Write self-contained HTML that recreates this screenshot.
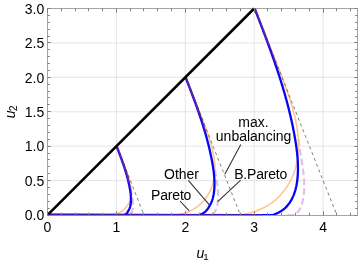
<!DOCTYPE html>
<html><head><meta charset="utf-8"><title>plot</title>
<style>
html,body{margin:0;padding:0;background:#fff;}
body{width:360px;height:264px;overflow:hidden;position:relative;font-family:"Liberation Sans",sans-serif;}
</style></head><body>
<svg width="360" height="264" viewBox="0 0 360 264" style="position:absolute;left:0;top:0;will-change:transform">
<rect width="360" height="264" fill="#fff"/>
<g stroke="#e2e2e2" stroke-width="0.9" fill="none"><line x1="116.39" y1="8.50" x2="116.39" y2="215.50"/><line x1="185.28" y1="8.50" x2="185.28" y2="215.50"/><line x1="254.17" y1="8.50" x2="254.17" y2="215.50"/><line x1="323.06" y1="8.50" x2="323.06" y2="215.50"/><line x1="47.50" y1="180.59" x2="357.50" y2="180.59"/><line x1="47.50" y1="146.17" x2="357.50" y2="146.17"/><line x1="47.50" y1="111.75" x2="357.50" y2="111.75"/><line x1="47.50" y1="77.34" x2="357.50" y2="77.34"/><line x1="47.50" y1="42.93" x2="357.50" y2="42.93"/></g>
<clipPath id="c"><rect x="47.50" y="6.50" width="310.00" height="208.55"/></clipPath>
<g clip-path="url(#c)" fill="none" stroke-linejoin="round" stroke-linecap="butt">
<path d="M130.80 188.27 L130.88 188.80 L130.96 189.33 L131.04 189.86 L131.11 190.40 L131.19 190.93 L131.27 191.46 L131.34 192.00 L131.42 192.53 L131.50 193.06 L131.58 193.60 L131.67 194.13 L131.75 194.66 L131.84 195.20 L131.93 195.73 L132.02 196.26 L132.11 196.80 L132.19 197.33 L132.28 197.86 L132.36 198.40 L132.44 198.93 L132.52 199.47 L132.59 200.00 L132.66 200.53 L132.72 201.07 L132.78 201.60 L132.83 202.13 L132.88 202.67 L132.91 203.20 L132.94 203.74 L132.97 204.27 L132.98 204.81 L132.98 205.34 L132.98 205.87 L132.96 206.41 L132.93 206.94 L132.89 207.48 L132.84 208.01 L132.78 208.55 L132.70 209.08 L132.61 209.62 L132.50 210.15 L132.38 210.69 L132.24 211.22 L132.08 211.74 L131.89 212.24 L131.68 212.73 L131.43 213.18 L131.15 213.60 L130.83 213.98 L130.46 214.32 L130.05 214.60 L129.59 214.82 L129.07 214.98 L128.50 215.07 L127.88 215.08 L127.20 215.01" stroke="#dfbfe2" stroke-width="2.1" stroke-dasharray="6.6 3.3" stroke-dashoffset="9.83"/>
<path d="M213.81 161.54 L213.96 162.60 L214.12 163.66 L214.27 164.73 L214.42 165.79 L214.58 166.86 L214.73 167.92 L214.89 168.99 L215.04 170.06 L215.20 171.12 L215.37 172.19 L215.54 173.26 L215.71 174.33 L215.88 175.39 L216.06 176.46 L216.24 177.53 L216.41 178.59 L216.58 179.66 L216.75 180.73 L216.92 181.80 L217.08 182.86 L217.23 183.93 L217.38 185.00 L217.51 186.07 L217.64 187.13 L217.76 188.20 L217.86 189.27 L217.95 190.34 L218.03 191.41 L218.09 192.47 L218.13 193.54 L218.16 194.61 L218.17 195.68 L218.15 196.75 L218.12 197.82 L218.06 198.89 L217.98 199.96 L217.88 201.03 L217.75 202.09 L217.60 203.16 L217.41 204.23 L217.20 205.30 L216.96 206.37 L216.68 207.44 L216.36 208.48 L215.99 209.49 L215.56 210.45 L215.06 211.36 L214.50 212.20 L213.86 212.96 L213.13 213.63 L212.30 214.20 L211.38 214.64 L210.35 214.96 L209.21 215.14 L207.96 215.16 L206.59 215.01" stroke="#dfbfe2" stroke-width="2.1" stroke-dasharray="6.6 3.3" stroke-dashoffset="1.51"/>
<path d="M297.71 134.81 L297.95 136.40 L298.18 138.00 L298.41 139.59 L298.64 141.19 L298.87 142.79 L299.10 144.39 L299.33 145.99 L299.57 147.59 L299.81 149.19 L300.05 150.79 L300.31 152.39 L300.56 153.99 L300.83 155.59 L301.09 157.19 L301.35 158.79 L301.62 160.39 L301.87 161.99 L302.13 163.59 L302.38 165.19 L302.62 166.80 L302.85 168.40 L303.07 170.00 L303.27 171.60 L303.46 173.20 L303.64 174.80 L303.79 176.40 L303.93 178.01 L304.04 179.61 L304.13 181.21 L304.20 182.81 L304.24 184.42 L304.25 186.02 L304.23 187.62 L304.18 189.23 L304.10 190.83 L303.98 192.43 L303.82 194.04 L303.63 195.64 L303.39 197.25 L303.12 198.85 L302.80 200.46 L302.43 202.06 L302.02 203.65 L301.54 205.22 L300.98 206.73 L300.34 208.18 L299.60 209.54 L298.75 210.80 L297.78 211.95 L296.69 212.95 L295.45 213.80 L294.06 214.47 L292.52 214.94 L290.81 215.21 L288.94 215.24 L286.89 215.02" stroke="#dfbfe2" stroke-width="2.1" stroke-dasharray="6.6 3.3" stroke-dashoffset="5.48"/>
<path d="M116.55 146.19 L116.82 146.89 L117.10 147.59 L117.37 148.29 L117.65 148.98 L117.93 149.68 L118.21 150.37 L118.49 151.06 L118.77 151.75 L119.05 152.44 L119.33 153.13 L119.61 153.82 L119.89 154.51 L120.17 155.20 L120.46 155.88 L120.74 156.57 L121.02 157.26 L121.30 157.94 L121.58 158.63 L121.86 159.31 L122.14 160.00 L122.42 160.69 L122.69 161.37 L122.97 162.06 L123.24 162.75 L123.52 163.43 L123.79 164.12 L124.06 164.81 L124.33 165.50 L124.60 166.19 L124.87 166.88 L125.13 167.58 L125.40 168.27 L125.66 168.96 L125.92 169.66 L126.18 170.36 L126.43 171.06 L126.68 171.76 L126.93 172.46 L127.18 173.17 L127.43 173.87 L127.67 174.58 L127.91 175.29 L128.14 176.01 L128.37 176.72 L128.60 177.44 L128.82 178.16 L129.03 178.88 L129.24 179.60 L129.44 180.32 L129.63 181.05 L129.82 181.78 L129.99 182.50 L130.15 183.23 L130.31 183.97 L130.45 184.70 L130.58 185.43 L130.70 186.17 L130.81 186.91 L130.90 187.65 L130.98 188.38 L131.05 189.13 L131.10 189.87 L131.13 190.61 L131.15 191.36 L131.15 192.10 L131.13 192.85 L131.10 193.59 L131.05 194.34 L130.98 195.08 L130.89 195.82 L130.77 196.56 L130.64 197.29 L130.49 198.02 L130.32 198.74 L130.13 199.46 L129.91 200.17 L129.67 200.87 L129.41 201.56 L129.13 202.25 L128.82 202.92 L128.49 203.58 L128.14 204.23 L127.77 204.87 L127.37 205.49 L126.96 206.10 L126.52 206.70 L126.07 207.28 L125.59 207.84 L125.10 208.39 L124.58 208.92 L124.05 209.43 L123.50 209.93 L122.93 210.40 L122.35 210.85 L121.74 211.28 L121.12 211.69 L120.49 212.08 L119.83 212.44 L119.17 212.78 L118.49 213.10 L117.80 213.39 L117.10 213.66 L116.38 213.91 L115.66 214.13 L114.92 214.33 L114.18 214.50 L113.43 214.64 L112.67 214.76 L111.90 214.85" stroke="#ffc58f" stroke-width="1.6"/>
<path d="M185.59 77.38 L186.14 78.78 L186.69 80.18 L187.25 81.57 L187.80 82.96 L188.36 84.35 L188.92 85.74 L189.48 87.13 L190.04 88.51 L190.60 89.89 L191.16 91.27 L191.72 92.64 L192.29 94.02 L192.85 95.39 L193.41 96.77 L193.97 98.14 L194.54 99.51 L195.10 100.89 L195.66 102.26 L196.22 103.63 L196.77 105.00 L197.33 106.37 L197.88 107.74 L198.44 109.12 L198.99 110.49 L199.54 111.87 L200.08 113.24 L200.63 114.62 L201.17 116.00 L201.70 117.38 L202.24 118.77 L202.77 120.15 L203.29 121.54 L203.82 122.93 L204.34 124.32 L204.85 125.72 L205.36 127.12 L205.87 128.52 L206.37 129.93 L206.86 131.34 L207.35 132.75 L207.84 134.17 L208.32 135.59 L208.79 137.01 L209.25 138.44 L209.70 139.88 L210.14 141.31 L210.57 142.75 L210.98 144.20 L211.38 145.65 L211.76 147.10 L212.13 148.55 L212.48 150.01 L212.81 151.47 L213.12 152.93 L213.40 154.40 L213.66 155.87 L213.90 157.34 L214.12 158.81 L214.30 160.29 L214.46 161.77 L214.59 163.25 L214.69 164.74 L214.76 166.22 L214.80 167.71 L214.80 169.20 L214.77 170.69 L214.70 172.19 L214.59 173.68 L214.45 175.16 L214.27 176.64 L214.05 178.12 L213.79 179.58 L213.49 181.04 L213.14 182.49 L212.76 183.92 L212.32 185.34 L211.85 186.74 L211.32 188.13 L210.75 189.49 L210.14 190.84 L209.48 192.16 L208.78 193.46 L208.03 194.74 L207.24 195.99 L206.42 197.21 L205.54 198.40 L204.63 199.56 L203.68 200.69 L202.69 201.78 L201.67 202.84 L200.60 203.87 L199.50 204.85 L198.36 205.80 L197.19 206.70 L195.98 207.56 L194.74 208.38 L193.47 209.15 L192.17 209.88 L190.84 210.56 L189.48 211.20 L188.10 211.79 L186.69 212.33 L185.26 212.82 L183.81 213.26 L182.34 213.65 L180.86 214.00 L179.35 214.28 L177.84 214.52 L176.31 214.70" stroke="#ffc58f" stroke-width="1.6"/>
<path d="M254.64 8.57 L255.46 10.67 L256.29 12.77 L257.12 14.86 L257.95 16.95 L258.79 19.03 L259.63 21.11 L260.46 23.19 L261.31 25.26 L262.15 27.33 L262.99 29.40 L263.83 31.47 L264.68 33.53 L265.52 35.59 L266.37 37.65 L267.21 39.71 L268.05 41.77 L268.89 43.83 L269.73 45.89 L270.57 47.94 L271.41 50.00 L272.25 52.06 L273.08 54.12 L273.91 56.18 L274.73 58.24 L275.56 60.30 L276.37 62.37 L277.19 64.43 L278.00 66.50 L278.81 68.57 L279.61 70.65 L280.40 72.73 L281.19 74.81 L281.98 76.89 L282.75 78.98 L283.53 81.08 L284.29 83.18 L285.05 85.28 L285.80 87.39 L286.54 89.50 L287.28 91.62 L288.01 93.75 L288.72 95.88 L289.43 98.02 L290.12 100.17 L290.80 102.32 L291.46 104.47 L292.10 106.63 L292.72 108.80 L293.32 110.97 L293.90 113.15 L294.45 115.33 L294.97 117.51 L295.46 119.70 L295.92 121.90 L296.35 124.10 L296.75 126.30 L297.10 128.51 L297.42 130.72 L297.70 132.94 L297.94 135.15 L298.14 137.38 L298.29 139.60 L298.39 141.83 L298.44 144.07 L298.45 146.30 L298.40 148.54 L298.30 150.78 L298.14 153.01 L297.93 155.24 L297.66 157.46 L297.32 159.68 L296.93 161.88 L296.48 164.06 L295.96 166.23 L295.38 168.38 L294.73 170.51 L294.02 172.61 L293.23 174.69 L292.38 176.74 L291.46 178.76 L290.47 180.74 L289.42 182.69 L288.30 184.61 L287.12 186.48 L285.87 188.31 L284.57 190.10 L283.20 191.84 L281.78 193.53 L280.29 195.18 L278.75 196.77 L277.15 198.30 L275.50 199.78 L273.80 201.20 L272.04 202.55 L270.23 203.84 L268.36 205.07 L266.46 206.23 L264.50 207.32 L262.51 208.35 L260.47 209.30 L258.40 210.18 L256.29 210.99 L254.14 211.73 L251.97 212.39 L249.76 212.98 L247.53 213.49 L245.28 213.93 L243.01 214.28 L240.71 214.56" stroke="#ffc58f" stroke-width="1.6"/>
<path d="M116.55 146.19 L116.72 146.63 L116.89 147.07 L117.06 147.51 L117.23 147.94 L117.40 148.38 L117.57 148.82 L117.74 149.26 L117.91 149.70 L118.08 150.14 L118.25 150.58 L118.42 151.02 L118.59 151.46 L118.75 151.90 L118.92 152.34 L119.09 152.78 L119.26 153.22 L119.43 153.67 L119.59 154.11 L119.76 154.55 L119.92 154.99 L120.09 155.43 L120.25 155.87 L120.42 156.31 L120.58 156.75 L120.75 157.20 L120.91 157.64 L121.07 158.08 L121.24 158.52 L121.40 158.96 L121.56 159.41 L121.72 159.85 L121.88 160.29 L122.04 160.74 L122.20 161.18 L122.35 161.62 L122.51 162.07 L122.67 162.51 L122.82 162.95 L122.98 163.40 L123.13 163.84 L123.29 164.29 L123.44 164.73 L123.59 165.18 L123.74 165.62 L123.89 166.07 L124.04 166.52 L124.19 166.96 L124.34 167.41 L124.48 167.86 L124.63 168.30 L124.77 168.75 L124.92 169.20 L125.06 169.65 L125.20 170.09 L125.34 170.54 L125.48 170.99 L125.62 171.44 L125.76 171.89 L125.89 172.34 L126.03 172.79 L126.16 173.24 L126.29 173.69 L126.43 174.14 L126.56 174.59 L126.68 175.04 L126.81 175.50 L126.94 175.95 L127.06 176.40 L127.19 176.85 L127.31 177.31 L127.43 177.76 L127.55 178.22 L127.67 178.67 L127.79 179.13 L127.90 179.58 L128.01 180.04 L128.13 180.49 L128.24 180.95 L128.35 181.41 L128.46 181.86 L128.56 182.32 L128.67 182.78 L128.77 183.24 L128.87 183.70 L128.97 184.16 L129.07 184.62 L129.17 185.08 L129.26 185.54 L129.36 186.00 L129.45 186.46 L129.54 186.92 L129.63 187.38 L129.71 187.85 L129.80 188.31 L129.88 188.77 L129.96 189.24 L130.04 189.70 L130.12 190.17 L130.19 190.63 L130.27 191.10 L130.34 191.57 L130.41 192.04 L130.47 192.50 L130.53 192.97 L130.59 193.44 L130.65 193.91 L130.70 194.38 L130.75 194.85 L130.80 195.32 L130.84 195.79 L130.87 196.26 L130.91 196.73 L130.93 197.20 L130.96 197.67 L130.97 198.15 L130.98 198.62 L130.99 199.09 L130.99 199.56 L130.99 200.04 L130.97 200.51 L130.96 200.99 L130.93 201.46 L130.90 201.93 L130.86 202.41 L130.82 202.88 L130.77 203.36 L130.70 203.83 L130.63 204.30 L130.55 204.76 L130.47 205.23 L130.37 205.69 L130.26 206.15 L130.14 206.60 L130.01 207.05 L129.87 207.49 L129.72 207.93 L129.55 208.36 L129.38 208.78 L129.19 209.20 L128.98 209.61 L128.77 210.01 L128.54 210.41 L128.34 210.79 L128.15 211.16 L127.96 211.52 L127.77 211.87 L127.57 212.21 L127.36 212.54 L127.13 212.85 L126.89 213.15 L126.64 213.43 L126.36 213.70 L126.07 213.95 L125.75 214.18 L125.41 214.39 L125.05 214.59 L124.66 214.77 L124.24 214.93 L123.79 215.06 L47.50 215.00" stroke="#0505ff" stroke-width="2.3"/>
<path d="M185.61 77.37 L185.95 78.25 L186.29 79.13 L186.63 80.01 L186.97 80.89 L187.31 81.77 L187.64 82.65 L187.98 83.53 L188.32 84.41 L188.66 85.29 L189.00 86.17 L189.34 87.05 L189.67 87.93 L190.01 88.81 L190.35 89.69 L190.68 90.57 L191.02 91.45 L191.35 92.33 L191.68 93.21 L192.02 94.09 L192.35 94.98 L192.68 95.86 L193.01 96.74 L193.34 97.62 L193.67 98.51 L194.00 99.39 L194.32 100.27 L194.65 101.16 L194.97 102.04 L195.29 102.93 L195.62 103.81 L195.94 104.70 L196.26 105.58 L196.58 106.47 L196.89 107.36 L197.21 108.24 L197.52 109.13 L197.84 110.02 L198.15 110.91 L198.46 111.80 L198.77 112.69 L199.07 113.58 L199.38 114.47 L199.68 115.36 L199.98 116.25 L200.28 117.14 L200.58 118.03 L200.88 118.92 L201.17 119.82 L201.47 120.71 L201.76 121.61 L202.05 122.50 L202.33 123.40 L202.62 124.29 L202.90 125.19 L203.18 126.09 L203.46 126.98 L203.74 127.88 L204.01 128.78 L204.28 129.68 L204.55 130.58 L204.82 131.48 L205.09 132.38 L205.35 133.28 L205.61 134.19 L205.87 135.09 L206.12 135.99 L206.38 136.90 L206.63 137.80 L206.87 138.71 L207.12 139.62 L207.36 140.52 L207.60 141.43 L207.84 142.34 L208.07 143.25 L208.30 144.16 L208.53 145.07 L208.75 145.99 L208.98 146.90 L209.20 147.81 L209.41 148.73 L209.62 149.64 L209.83 150.56 L210.04 151.48 L210.24 152.39 L210.45 153.31 L210.64 154.23 L210.84 155.15 L211.03 156.07 L211.21 157.00 L211.40 157.92 L211.58 158.84 L211.75 159.77 L211.93 160.69 L212.10 161.62 L212.26 162.55 L212.42 163.48 L212.58 164.41 L212.74 165.34 L212.89 166.27 L213.03 167.20 L213.18 168.14 L213.31 169.07 L213.44 170.01 L213.57 170.94 L213.69 171.88 L213.80 172.82 L213.91 173.76 L214.00 174.70 L214.09 175.64 L214.17 176.58 L214.25 177.52 L214.31 178.46 L214.37 179.40 L214.41 180.35 L214.44 181.29 L214.47 182.24 L214.48 183.18 L214.48 184.13 L214.47 185.08 L214.45 186.02 L214.41 186.97 L214.36 187.92 L214.30 188.87 L214.23 189.82 L214.14 190.77 L214.03 191.71 L213.91 192.65 L213.77 193.59 L213.61 194.53 L213.43 195.46 L213.24 196.38 L213.02 197.29 L212.78 198.20 L212.52 199.10 L212.24 199.98 L211.94 200.86 L211.61 201.72 L211.25 202.57 L210.87 203.40 L210.47 204.22 L210.03 205.03 L209.57 205.81 L209.13 206.58 L208.69 207.32 L208.24 208.05 L207.77 208.75 L207.28 209.43 L206.76 210.08 L206.21 210.70 L205.63 211.29 L205.02 211.86 L204.37 212.39 L203.68 212.89 L202.96 213.36 L202.19 213.79 L201.38 214.18 L200.52 214.54 L199.61 214.85 L198.65 215.13 L47.50 215.00" stroke="#0505ff" stroke-width="2.3"/>
<path d="M254.66 8.56 L255.17 9.88 L255.68 11.20 L256.19 12.52 L256.70 13.83 L257.21 15.15 L257.72 16.47 L258.23 17.79 L258.73 19.11 L259.24 20.43 L259.75 21.75 L260.25 23.07 L260.76 24.39 L261.26 25.71 L261.77 27.03 L262.27 28.35 L262.77 29.67 L263.28 31.00 L263.78 32.32 L264.27 33.64 L264.77 34.96 L265.27 36.29 L265.76 37.61 L266.26 38.94 L266.75 40.26 L267.24 41.59 L267.73 42.91 L268.22 44.24 L268.71 45.56 L269.19 46.89 L269.68 48.22 L270.16 49.55 L270.64 50.88 L271.11 52.21 L271.59 53.54 L272.06 54.87 L272.53 56.20 L273.00 57.53 L273.47 58.86 L273.94 60.20 L274.40 61.53 L274.86 62.86 L275.32 64.20 L275.77 65.54 L276.23 66.87 L276.68 68.21 L277.12 69.55 L277.57 70.89 L278.01 72.23 L278.45 73.57 L278.89 74.91 L279.32 76.25 L279.75 77.59 L280.18 78.94 L280.60 80.28 L281.02 81.63 L281.44 82.97 L281.86 84.32 L282.27 85.67 L282.68 87.02 L283.08 88.37 L283.48 89.72 L283.88 91.07 L284.28 92.42 L284.67 93.78 L285.05 95.13 L285.44 96.49 L285.81 97.85 L286.19 99.21 L286.56 100.56 L286.93 101.92 L287.29 103.29 L287.65 104.65 L288.01 106.01 L288.36 107.38 L288.70 108.74 L289.04 110.11 L289.38 111.48 L289.72 112.85 L290.04 114.22 L290.37 115.59 L290.69 116.96 L291.00 118.34 L291.31 119.71 L291.62 121.09 L291.92 122.47 L292.21 123.85 L292.50 125.23 L292.79 126.61 L293.07 127.99 L293.34 129.38 L293.61 130.76 L293.88 132.15 L294.14 133.54 L294.39 134.93 L294.64 136.32 L294.89 137.72 L295.12 139.11 L295.35 140.51 L295.58 141.90 L295.80 143.30 L296.01 144.70 L296.22 146.11 L296.42 147.51 L296.60 148.91 L296.78 150.32 L296.95 151.73 L297.11 153.13 L297.25 154.54 L297.39 155.95 L297.51 157.37 L297.62 158.78 L297.72 160.19 L297.80 161.61 L297.87 163.02 L297.92 164.44 L297.95 165.86 L297.97 167.27 L297.97 168.69 L297.96 170.11 L297.92 171.54 L297.87 172.96 L297.80 174.38 L297.70 175.80 L297.59 177.23 L297.45 178.65 L297.30 180.07 L297.11 181.48 L296.90 182.89 L296.66 184.29 L296.40 185.69 L296.11 187.07 L295.78 188.44 L295.43 189.80 L295.04 191.15 L294.61 192.47 L294.16 193.79 L293.66 195.08 L293.13 196.35 L292.56 197.61 L291.95 198.84 L291.30 200.04 L290.60 201.22 L289.87 202.37 L289.09 203.49 L288.26 204.57 L287.39 205.62 L286.48 206.64 L285.51 207.61 L284.50 208.55 L283.43 209.44 L282.32 210.29 L281.16 211.09 L279.94 211.84 L278.67 212.54 L277.34 213.18 L275.96 213.77 L274.52 214.31 L273.03 214.78 L271.48 215.19 L47.50 215.00" stroke="#0505ff" stroke-width="2.3"/>
<path d="M116.55 146.19 L116.72 146.63 L116.89 147.07 L117.06 147.51 L117.23 147.94 L117.40 148.38 L117.57 148.82 L117.74 149.26 L117.91 149.70 L118.08 150.14 L118.25 150.58 L118.42 151.02 L118.59 151.46 L118.75 151.90 L118.92 152.34 L119.09 152.78 L119.26 153.22 L119.43 153.67 L119.59 154.11 L119.76 154.55 L119.92 154.99 L120.09 155.43 L120.25 155.87 L120.42 156.31 L120.58 156.75 L120.75 157.20 L120.91 157.64 L121.07 158.08 L121.24 158.52 L121.40 158.96 L121.56 159.41 L121.72 159.85 L121.88 160.29 L122.04 160.74 L122.20 161.18 L122.35 161.62 L122.51 162.07 L122.67 162.51 L122.82 162.95 L122.98 163.40 L123.13 163.84 L123.29 164.29 L123.44 164.73 L123.59 165.18 L123.74 165.62 L123.89 166.07 L124.04 166.52 L124.19 166.96 L124.34 167.41 L124.48 167.86 L124.63 168.30 L124.77 168.75 L124.92 169.20 L125.06 169.65 L125.20 170.09 L125.34 170.54 L125.48 170.99 L125.62 171.44 L125.76 171.89 L125.89 172.34 L126.03 172.79 L126.16 173.24 L126.29 173.69 L126.43 174.14 L126.56 174.59 L126.68 175.04 L126.81 175.50 L126.94 175.95 L127.06 176.40 L127.19 176.85 L127.31 177.31 L127.43 177.76 L127.55 178.22 L127.67 178.67 L127.79 179.13 L127.90 179.58 L128.01 180.04 L128.13 180.49 L128.24 180.95 L128.35 181.41 L128.46 181.86" stroke="#86309a" stroke-width="1.9" stroke-opacity="0.7" transform="translate(0.35,0)"/>
<path d="M128.35 181.41 L128.46 181.86 L128.56 182.32 L128.67 182.78 L128.77 183.24 L128.87 183.70 L128.97 184.16 L129.07 184.62 L129.17 185.08 L129.26 185.54 L129.36 186.00 L129.45 186.46 L129.54 186.92 L129.63 187.38 L129.71 187.85 L129.80 188.31 L129.88 188.77 L129.96 189.24 L130.04 189.70 L130.12 190.17 L130.19 190.63 L130.27 191.10 L130.34 191.57 L130.41 192.04 L130.47 192.50 L130.53 192.97 L130.59 193.44 L130.65 193.91 L130.70 194.38 L130.75 194.85 L130.80 195.32 L130.84 195.79 L130.87 196.26 L130.91 196.73 L130.93 197.20 L130.96 197.67 L130.97 198.15 L130.98 198.62 L130.99 199.09 L130.99 199.56 L130.99 200.04 L130.97 200.51 L130.96 200.99" stroke="#86309a" stroke-width="1.4" stroke-opacity="0.4" transform="translate(0.45,0)"/>
<path d="M185.61 77.37 L185.95 78.25 L186.29 79.13 L186.63 80.01 L186.97 80.89 L187.31 81.77 L187.64 82.65 L187.98 83.53 L188.32 84.41 L188.66 85.29 L189.00 86.17 L189.34 87.05 L189.67 87.93 L190.01 88.81 L190.35 89.69 L190.68 90.57 L191.02 91.45 L191.35 92.33 L191.68 93.21 L192.02 94.09 L192.35 94.98 L192.68 95.86 L193.01 96.74 L193.34 97.62 L193.67 98.51 L194.00 99.39 L194.32 100.27 L194.65 101.16 L194.97 102.04 L195.29 102.93 L195.62 103.81 L195.94 104.70 L196.26 105.58 L196.58 106.47 L196.89 107.36 L197.21 108.24 L197.52 109.13 L197.84 110.02 L198.15 110.91 L198.46 111.80 L198.77 112.69" stroke="#86309a" stroke-width="1.9" stroke-opacity="0.7" transform="translate(0.35,0)"/>
<path d="M198.77 112.69 L199.07 113.58 L199.38 114.47 L199.68 115.36 L199.98 116.25 L200.28 117.14 L200.58 118.03 L200.88 118.92 L201.17 119.82 L201.47 120.71 L201.76 121.61 L202.05 122.50 L202.33 123.40 L202.62 124.29 L202.90 125.19 L203.18 126.09 L203.46 126.98 L203.74 127.88 L204.01 128.78 L204.28 129.68 L204.55 130.58 L204.82 131.48" stroke="#86309a" stroke-width="1.4" stroke-opacity="0.4" transform="translate(0.45,0)"/>
<path d="M254.66 8.56 L255.17 9.88 L255.68 11.20 L256.19 12.52 L256.70 13.83 L257.21 15.15 L257.72 16.47 L258.23 17.79 L258.73 19.11 L259.24 20.43 L259.75 21.75 L260.25 23.07 L260.76 24.39 L261.26 25.71 L261.77 27.03 L262.27 28.35 L262.77 29.67 L263.28 31.00 L263.78 32.32 L264.27 33.64 L264.77 34.96 L265.27 36.29 L265.76 37.61 L266.26 38.94 L266.75 40.26 L267.24 41.59 L267.73 42.91 L268.22 44.24" stroke="#86309a" stroke-width="1.9" stroke-opacity="0.7" transform="translate(0.35,0)"/>
<path d="M268.22 44.24 L268.71 45.56 L269.19 46.89 L269.68 48.22 L270.16 49.55 L270.64 50.88 L271.11 52.21 L271.59 53.54 L272.06 54.87 L272.53 56.20 L273.00 57.53 L273.47 58.86 L273.94 60.20 L274.40 61.53 L274.86 62.86" stroke="#86309a" stroke-width="1.4" stroke-opacity="0.4" transform="translate(0.45,0)"/>
<line x1="116.89" y1="146.17" x2="143.95" y2="215.00" stroke="#383838" stroke-width="0.65" stroke-dasharray="3.0 3.19"/>
<line x1="185.78" y1="77.34" x2="240.39" y2="215.00" stroke="#383838" stroke-width="0.65" stroke-dasharray="3.0 3.19"/>
<line x1="254.67" y1="8.51" x2="336.84" y2="215.00" stroke="#383838" stroke-width="0.65" stroke-dasharray="3.0 3.19"/>
<line x1="47.50" y1="215.00" x2="254.17" y2="8.51" stroke="#000" stroke-width="2.6"/>
</g>
<rect x="47.50" y="8.50" width="310.00" height="207.00" fill="none" stroke="#666" stroke-width="0.6"/>
<line x1="47.50" y1="214.70" x2="262" y2="214.70" stroke="#7a2a80" stroke-width="1.6" stroke-opacity="0.5"/>
<g stroke="#808080" stroke-width="1"><line x1="47.50" y1="215.50" x2="47.50" y2="211.30"/><line x1="47.50" y1="8.50" x2="47.50" y2="12.70"/><line x1="61.50" y1="215.50" x2="61.50" y2="212.70"/><line x1="61.50" y1="8.50" x2="61.50" y2="11.30"/><line x1="75.50" y1="215.50" x2="75.50" y2="212.70"/><line x1="75.50" y1="8.50" x2="75.50" y2="11.30"/><line x1="88.50" y1="215.50" x2="88.50" y2="212.70"/><line x1="88.50" y1="8.50" x2="88.50" y2="11.30"/><line x1="102.50" y1="215.50" x2="102.50" y2="212.70"/><line x1="102.50" y1="8.50" x2="102.50" y2="11.30"/><line x1="116.50" y1="215.50" x2="116.50" y2="211.30"/><line x1="116.50" y1="8.50" x2="116.50" y2="12.70"/><line x1="130.50" y1="215.50" x2="130.50" y2="212.70"/><line x1="130.50" y1="8.50" x2="130.50" y2="11.30"/><line x1="143.50" y1="215.50" x2="143.50" y2="212.70"/><line x1="143.50" y1="8.50" x2="143.50" y2="11.30"/><line x1="157.50" y1="215.50" x2="157.50" y2="212.70"/><line x1="157.50" y1="8.50" x2="157.50" y2="11.30"/><line x1="171.50" y1="215.50" x2="171.50" y2="212.70"/><line x1="171.50" y1="8.50" x2="171.50" y2="11.30"/><line x1="185.50" y1="215.50" x2="185.50" y2="211.30"/><line x1="185.50" y1="8.50" x2="185.50" y2="12.70"/><line x1="199.50" y1="215.50" x2="199.50" y2="212.70"/><line x1="199.50" y1="8.50" x2="199.50" y2="11.30"/><line x1="212.50" y1="215.50" x2="212.50" y2="212.70"/><line x1="212.50" y1="8.50" x2="212.50" y2="11.30"/><line x1="226.50" y1="215.50" x2="226.50" y2="212.70"/><line x1="226.50" y1="8.50" x2="226.50" y2="11.30"/><line x1="240.50" y1="215.50" x2="240.50" y2="212.70"/><line x1="240.50" y1="8.50" x2="240.50" y2="11.30"/><line x1="254.50" y1="215.50" x2="254.50" y2="211.30"/><line x1="254.50" y1="8.50" x2="254.50" y2="12.70"/><line x1="267.50" y1="215.50" x2="267.50" y2="212.70"/><line x1="267.50" y1="8.50" x2="267.50" y2="11.30"/><line x1="281.50" y1="215.50" x2="281.50" y2="212.70"/><line x1="281.50" y1="8.50" x2="281.50" y2="11.30"/><line x1="295.50" y1="215.50" x2="295.50" y2="212.70"/><line x1="295.50" y1="8.50" x2="295.50" y2="11.30"/><line x1="309.50" y1="215.50" x2="309.50" y2="212.70"/><line x1="309.50" y1="8.50" x2="309.50" y2="11.30"/><line x1="323.50" y1="215.50" x2="323.50" y2="211.30"/><line x1="323.50" y1="8.50" x2="323.50" y2="12.70"/><line x1="336.50" y1="215.50" x2="336.50" y2="212.70"/><line x1="336.50" y1="8.50" x2="336.50" y2="11.30"/><line x1="350.50" y1="215.50" x2="350.50" y2="212.70"/><line x1="350.50" y1="8.50" x2="350.50" y2="11.30"/><line x1="47.50" y1="215.50" x2="50.80" y2="215.50"/><line x1="357.50" y1="215.50" x2="354.20" y2="215.50"/><line x1="47.50" y1="208.50" x2="49.80" y2="208.50"/><line x1="357.50" y1="208.50" x2="355.20" y2="208.50"/><line x1="47.50" y1="201.50" x2="49.80" y2="201.50"/><line x1="357.50" y1="201.50" x2="355.20" y2="201.50"/><line x1="47.50" y1="194.50" x2="49.80" y2="194.50"/><line x1="357.50" y1="194.50" x2="355.20" y2="194.50"/><line x1="47.50" y1="187.50" x2="49.80" y2="187.50"/><line x1="357.50" y1="187.50" x2="355.20" y2="187.50"/><line x1="47.50" y1="180.50" x2="50.80" y2="180.50"/><line x1="357.50" y1="180.50" x2="354.20" y2="180.50"/><line x1="47.50" y1="173.50" x2="49.80" y2="173.50"/><line x1="357.50" y1="173.50" x2="355.20" y2="173.50"/><line x1="47.50" y1="166.50" x2="49.80" y2="166.50"/><line x1="357.50" y1="166.50" x2="355.20" y2="166.50"/><line x1="47.50" y1="159.50" x2="49.80" y2="159.50"/><line x1="357.50" y1="159.50" x2="355.20" y2="159.50"/><line x1="47.50" y1="153.50" x2="49.80" y2="153.50"/><line x1="357.50" y1="153.50" x2="355.20" y2="153.50"/><line x1="47.50" y1="146.50" x2="50.80" y2="146.50"/><line x1="357.50" y1="146.50" x2="354.20" y2="146.50"/><line x1="47.50" y1="139.50" x2="49.80" y2="139.50"/><line x1="357.50" y1="139.50" x2="355.20" y2="139.50"/><line x1="47.50" y1="132.50" x2="49.80" y2="132.50"/><line x1="357.50" y1="132.50" x2="355.20" y2="132.50"/><line x1="47.50" y1="125.50" x2="49.80" y2="125.50"/><line x1="357.50" y1="125.50" x2="355.20" y2="125.50"/><line x1="47.50" y1="118.50" x2="49.80" y2="118.50"/><line x1="357.50" y1="118.50" x2="355.20" y2="118.50"/><line x1="47.50" y1="111.50" x2="50.80" y2="111.50"/><line x1="357.50" y1="111.50" x2="354.20" y2="111.50"/><line x1="47.50" y1="104.50" x2="49.80" y2="104.50"/><line x1="357.50" y1="104.50" x2="355.20" y2="104.50"/><line x1="47.50" y1="97.50" x2="49.80" y2="97.50"/><line x1="357.50" y1="97.50" x2="355.20" y2="97.50"/><line x1="47.50" y1="91.50" x2="49.80" y2="91.50"/><line x1="357.50" y1="91.50" x2="355.20" y2="91.50"/><line x1="47.50" y1="84.50" x2="49.80" y2="84.50"/><line x1="357.50" y1="84.50" x2="355.20" y2="84.50"/><line x1="47.50" y1="77.50" x2="50.80" y2="77.50"/><line x1="357.50" y1="77.50" x2="354.20" y2="77.50"/><line x1="47.50" y1="70.50" x2="49.80" y2="70.50"/><line x1="357.50" y1="70.50" x2="355.20" y2="70.50"/><line x1="47.50" y1="63.50" x2="49.80" y2="63.50"/><line x1="357.50" y1="63.50" x2="355.20" y2="63.50"/><line x1="47.50" y1="56.50" x2="49.80" y2="56.50"/><line x1="357.50" y1="56.50" x2="355.20" y2="56.50"/><line x1="47.50" y1="49.50" x2="49.80" y2="49.50"/><line x1="357.50" y1="49.50" x2="355.20" y2="49.50"/><line x1="47.50" y1="42.50" x2="50.80" y2="42.50"/><line x1="357.50" y1="42.50" x2="354.20" y2="42.50"/><line x1="47.50" y1="36.50" x2="49.80" y2="36.50"/><line x1="357.50" y1="36.50" x2="355.20" y2="36.50"/><line x1="47.50" y1="29.50" x2="49.80" y2="29.50"/><line x1="357.50" y1="29.50" x2="355.20" y2="29.50"/><line x1="47.50" y1="22.50" x2="49.80" y2="22.50"/><line x1="357.50" y1="22.50" x2="355.20" y2="22.50"/><line x1="47.50" y1="15.50" x2="49.80" y2="15.50"/><line x1="357.50" y1="15.50" x2="355.20" y2="15.50"/><line x1="47.50" y1="8.50" x2="50.80" y2="8.50"/><line x1="357.50" y1="8.50" x2="354.20" y2="8.50"/></g>
<g stroke="#303030" stroke-width="1.05" fill="none">
<line x1="240.8" y1="144.6" x2="224.8" y2="174.2"/>
<line x1="188.3" y1="180.3" x2="209.6" y2="205.2"/>
<line x1="240.7" y1="180.2" x2="217.7" y2="201.6"/>
<line x1="180" y1="201" x2="189" y2="210.7"/>
</g>
<g font-family="'Liberation Sans', sans-serif" font-size="14" fill="#000">
<text x="44.2" y="220.30" text-anchor="end">0.0</text>
<text x="44.2" y="185.89" text-anchor="end">0.5</text>
<text x="44.2" y="151.47" text-anchor="end">1.0</text>
<text x="44.2" y="117.05" text-anchor="end">1.5</text>
<text x="44.2" y="82.64" text-anchor="end">2.0</text>
<text x="44.2" y="48.23" text-anchor="end">2.5</text>
<text x="44.2" y="13.81" text-anchor="end">3.0</text>
<text x="47.50" y="231.9" text-anchor="middle">0</text>
<text x="116.39" y="231.9" text-anchor="middle">1</text>
<text x="185.28" y="231.9" text-anchor="middle">2</text>
<text x="254.17" y="231.9" text-anchor="middle">3</text>
<text x="323.06" y="231.9" text-anchor="middle">4</text>
<text x="253.4" y="126.75" text-anchor="middle">max.</text>
<text x="253.6" y="140.6" text-anchor="middle">unbalancing</text>
<text x="164" y="178.8">Other</text>
<text x="151" y="199.5" letter-spacing="-0.17">Pareto</text>
<text x="234.2" y="178.8" letter-spacing="-0.2">B.Pareto</text>
<text x="196.6" y="257.7" font-style="italic">u<tspan font-style="normal" font-size="9.8" dx="-1.2" dy="2.5">1</tspan></text>
<text transform="translate(14.6,118.3) rotate(-90)" font-style="italic">u<tspan font-style="normal" font-size="10.4" dx="-0.8" dy="2.3">2</tspan></text>
</g>
</svg>
</body></html>
